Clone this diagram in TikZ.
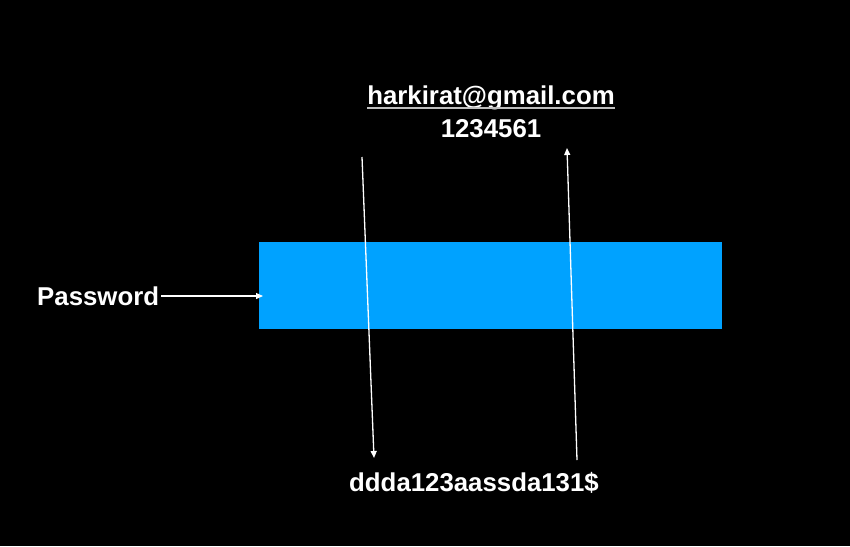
\documentclass[tikz,border=0pt]{standalone}
\usepackage{fontspec}
\setmainfont{Liberation Sans}
\usetikzlibrary{calc,arrows.meta}
\definecolor{boxblue}{RGB}{0,162,255}
\definecolor{ulgray}{RGB}{190,190,190}
\begin{document}
\begin{tikzpicture}[x=1pt,y=-1pt,
  lbl/.style={text=white,font=\fontsize{25.8}{30}\selectfont\bfseries,inner sep=0pt,anchor=base},
  conn/.style={draw=white,line width=1.3pt,-{Triangle[length=7pt,width=6pt]}}]
\fill[black] (0,0) rectangle (850,546);
\useasboundingbox (0,0) rectangle (850,546);
\fill[boxblue] (259,242) rectangle (722,329);
\node[lbl] (email) at (491,104) {harkirat@gmail.com};
\draw[ulgray,line width=1.5pt] ($(email.base west)+(0,4)$) -- ($(email.base east)+(0,4)$);
\node[lbl] (num) at (491,137) {1234561};
\node[lbl] (hash) at (474,491) {ddda123aassda131\$};
\node[lbl,anchor=base west] (pw) at (37,305) {Password};
\coordinate (pwend) at (263,296);
\coordinate (d1) at (362,157);
\coordinate (d2) at (374,458);
\coordinate (u1) at (577,460);
\coordinate (u2) at (567,148);
\draw[conn] (pw.east |- pwend) ++(2,0) -- (pwend);
\draw[conn] (d1) -- (d2);
\draw[conn] (u1) -- (u2);
\end{tikzpicture}
\end{document}
